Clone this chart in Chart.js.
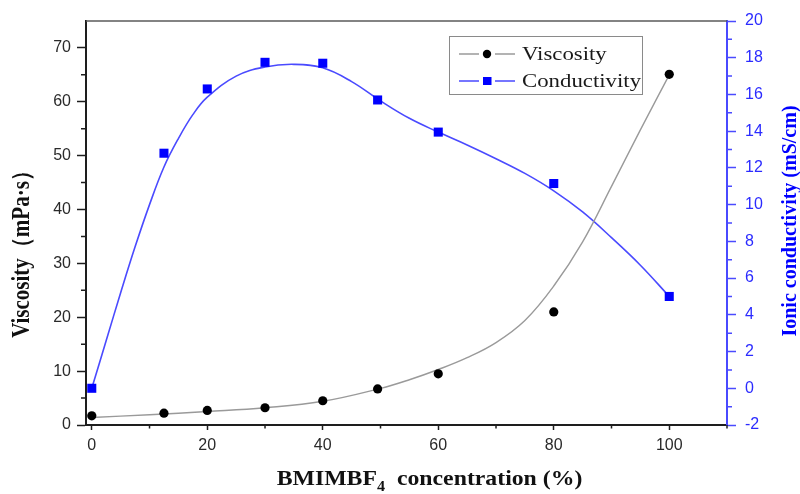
<!DOCTYPE html>
<html>
<head>
<meta charset="utf-8">
<script src="https://cdn.jsdelivr.net/npm/chart.js@4.4.0/dist/chart.umd.min.js"></script>
<style>
  html, body { margin: 0; padding: 0; background: #fff; }
  #wrap { width: 800px; height: 494px; }
</style>
</head>
<body>
<div id="wrap"><canvas id="chart"></canvas></div>
<script>
// --- measured points ---
const concentration = [0, 12.5, 20, 30, 40, 49.5, 60, 80, 100];
const viscosity = [1.7, 2.2, 2.7, 3.2, 4.5, 6.7, 9.5, 21.0, 65.1];
const conductivity = [0.0, 12.8, 16.3, 17.75, 17.7, 15.7, 13.95, 11.15, 5.0];

// --- fitted curves ---
const viscFitX = [0, 10, 20, 30, 40, 50, 55, 60, 65, 70, 75, 80, 85, 90, 95, 100];
const viscFitY = [1.4, 1.9, 2.5, 3.2, 4.4, 6.8, 8.4, 10.3, 12.5, 15.3, 19.4, 25.8, 34.0, 44.3, 54.8, 65.0];
const condFitX = [0, 2.5, 5, 7.5, 10, 12.5, 15, 17.5, 20, 25, 30, 35, 40, 45, 50, 55, 60, 65, 70, 75, 80, 85, 90, 95, 100];
const condFitY = [0, 2.6, 5.2, 7.7, 10.0, 12.05, 13.6, 14.9, 15.85, 17.0, 17.5, 17.64, 17.45, 16.7, 15.65, 14.7, 13.95, 13.25, 12.5, 11.7, 10.75, 9.6, 8.2, 6.7, 5.0];

// --- minor tick values ---
const xMinor = [10, 30, 50, 70, 90, 110];
const yMinor = [5, 15, 25, 35, 45, 55, 65];
const y1Minor = [-1, 1, 3, 5, 7, 9, 11, 13, 15, 17, 19];

const BLUE = '#0000ff';
const BLUE_LINE = '#4a4aff';
const BLUE_TEXT = '#2b2bff';
const AXIS = '#1e1e1e';

const toXY = (xs, ys) => xs.map((x, i) => ({ x: x, y: ys[i] }));

function drawMinor(ctx, scale, values, len, color, side) {
    ctx.strokeStyle = color;
    ctx.lineWidth = 1.5;
    ctx.beginPath();
    values.forEach(v => {
        const p = scale.getPixelForValue(v);
        if (side === 'left') { ctx.moveTo(scale.right - len, p); ctx.lineTo(scale.right, p); }
        else if (side === 'right') { ctx.moveTo(scale.left, p); ctx.lineTo(scale.left + len, p); }
        else { ctx.moveTo(p, scale.top); ctx.lineTo(p, scale.top + len); }
    });
    ctx.stroke();
}

function rotatedTitle(ctx, text, cx, cy, font, color, sx) {
    ctx.save();
    ctx.translate(cx, cy);
    ctx.scale(sx, 1);
    ctx.rotate(-Math.PI / 2);
    ctx.font = font;
    ctx.fillStyle = color;
    ctx.textAlign = 'center';
    ctx.textBaseline = 'middle';
    ctx.fillText(text, 0, 0);
    ctx.restore();
}

const decorations = {
    id: 'decorations',
    afterDraw(chart) {
        const { ctx, chartArea, scales } = chart;
        ctx.save();

        // top frame
        ctx.strokeStyle = '#5a5a5a';
        ctx.lineWidth = 1.5;
        ctx.beginPath();
        ctx.moveTo(chartArea.left, chartArea.top);
        ctx.lineTo(chartArea.right, chartArea.top);
        ctx.stroke();

        // minor ticks
        drawMinor(ctx, scales.y, yMinor, 5, AXIS, 'left');
        drawMinor(ctx, scales.y1, y1Minor, 5, BLUE_LINE, 'right');
        drawMinor(ctx, scales.x, xMinor, 3.5, AXIS, 'bottom');

        // axis titles
        rotatedTitle(ctx, 'Viscosity（mPa·s）', 23, 249, 'bold 21px "Liberation Serif", serif', '#111', 1.15);
        rotatedTitle(ctx, 'Ionic conductivity (mS/cm)', 790, 221, 'bold 20px "Liberation Serif", serif', BLUE, 1.1);

        // x title with subscript
        const sx = 1.08;
        const bigFont = 'bold 22px "Liberation Serif", serif';
        const subFont = 'bold 15px "Liberation Serif", serif';
        const partA = 'BMIMBF', partB = '4', partC = '  concentration (%)';
        ctx.font = bigFont;
        const wA = ctx.measureText(partA).width;
        const wC = ctx.measureText(partC).width;
        ctx.font = subFont;
        const wB = ctx.measureText(partB).width;
        const total = (wA + wB + wC) * sx;
        const startX = 429.5 - total / 2;
        ctx.save();
        ctx.translate(startX, 485);
        ctx.scale(sx, 1);
        ctx.fillStyle = '#111';
        ctx.textBaseline = 'alphabetic';
        ctx.textAlign = 'left';
        ctx.font = bigFont;
        ctx.fillText(partA, 0, 0);
        ctx.font = subFont;
        ctx.fillText(partB, wA, 6);
        ctx.font = bigFont;
        ctx.fillText(partC, wA + wB, 0);
        ctx.restore();

        // legend
        const lx = 449, ly = 36, lw = 193, lh = 58;
        ctx.strokeStyle = '#8a8a8a';
        ctx.lineWidth = 1;
        ctx.strokeRect(lx + 0.5, ly + 0.5, lw, lh);
        const rows = [
            { label: 'Viscosity', line: chart.data.datasets[2].borderColor, mark: chart.data.datasets[0].backgroundColor, style: 'circle', y: 54 },
            { label: 'Conductivity', line: chart.data.datasets[3].borderColor, mark: chart.data.datasets[1].backgroundColor, style: 'rect', y: 81 }
        ];
        rows.forEach(r => {
            ctx.strokeStyle = r.line;
            ctx.lineWidth = 1.3;
            ctx.beginPath();
            ctx.moveTo(459, r.y); ctx.lineTo(479, r.y);
            ctx.moveTo(495, r.y); ctx.lineTo(515, r.y);
            ctx.stroke();
            ctx.fillStyle = r.mark;
            if (r.style === 'circle') {
                ctx.beginPath();
                ctx.arc(487, r.y, 4.2, 0, Math.PI * 2);
                ctx.fill();
            } else {
                ctx.fillRect(483, r.y - 4, 8.5, 8);
            }
            ctx.save();
            ctx.translate(522, r.y + 1);
            ctx.scale(1.2, 1);
            ctx.font = '19px "Liberation Serif", serif';
            ctx.fillStyle = '#1a1a1a';
            ctx.textAlign = 'left';
            ctx.textBaseline = 'middle';
            ctx.fillText(r.label, 0, 0);
            ctx.restore();
        });

        ctx.restore();
    }
};

const tickFont = { family: '"Liberation Sans", Arial, sans-serif', size: 16 };

new Chart(document.getElementById('chart'), {
    type: 'scatter',
    data: {
        datasets: [
            {
                label: 'Viscosity',
                data: toXY(concentration, viscosity),
                yAxisID: 'y',
                pointStyle: 'circle',
                pointRadius: 4.6,
                backgroundColor: '#000',
                borderColor: '#000',
                borderWidth: 0,
                order: 0
            },
            {
                label: 'Conductivity',
                data: toXY(concentration, conductivity),
                yAxisID: 'y1',
                pointStyle: 'rect',
                pointRadius: 6.4,
                backgroundColor: BLUE,
                borderColor: BLUE,
                borderWidth: 0,
                order: 0
            },
            {
                label: 'Viscosity fit',
                data: toXY(viscFitX, viscFitY),
                yAxisID: 'y',
                showLine: true,
                pointRadius: 0,
                borderColor: '#9a9a9a',
                borderWidth: 1.4,
                tension: 0.4,
                order: 1
            },
            {
                label: 'Conductivity fit',
                data: toXY(condFitX, condFitY),
                yAxisID: 'y1',
                showLine: true,
                pointRadius: 0,
                borderColor: BLUE_LINE,
                borderWidth: 1.6,
                tension: 0.4,
                order: 1
            }
        ]
    },
    options: {
        responsive: true,
        maintainAspectRatio: false,
        animation: false,
        layout: { padding: { top: 21, left: 0, right: 0, bottom: 0 } },
        plugins: {
            legend: { display: false },
            tooltip: { enabled: false }
        },
        scales: {
            x: {
                type: 'linear',
                min: -1,
                max: 110,
                afterFit: s => { s.height = 69; },
                ticks: { stepSize: 20, includeBounds: false, padding: 6, color: '#2a2a2a', font: tickFont, maxRotation: 0 },
                grid: { drawOnChartArea: false, tickLength: 5, tickWidth: 1.5, tickColor: AXIS },
                border: { color: AXIS, width: 2 }
            },
            y: {
                position: 'left',
                min: 0,
                max: 75,
                afterFit: s => { s.width = 86; },
                ticks: { stepSize: 10, includeBounds: false, padding: 6, color: '#2a2a2a', font: tickFont },
                grid: { drawOnChartArea: false, tickLength: 9, tickWidth: 1.5, tickColor: AXIS },
                border: { color: AXIS, width: 2 }
            },
            y1: {
                position: 'right',
                min: -2,
                max: 20,
                afterFit: s => { s.width = 73; },
                ticks: { stepSize: 2, padding: 9, color: BLUE_TEXT, font: tickFont },
                grid: { drawOnChartArea: false, tickLength: 9, tickWidth: 1.5, tickColor: BLUE_LINE },
                border: { color: BLUE_LINE, width: 2 }
            }
        }
    },
    plugins: [decorations]
});
</script>
</body>
</html>
